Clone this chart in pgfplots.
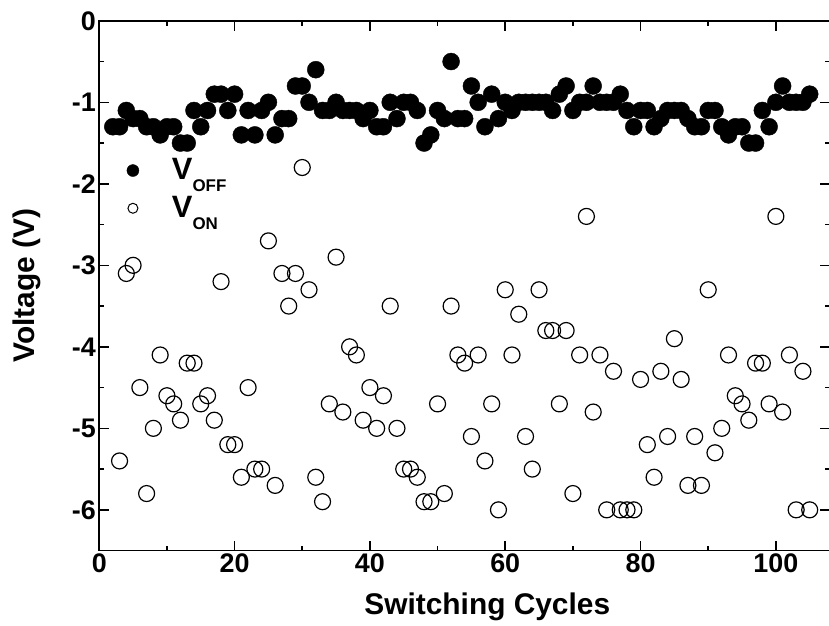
\documentclass[border=0pt]{standalone}
\usepackage{pgfplots}
\pgfplotsset{compat=1.18}
\usepackage{fontspec}
\setmainfont{Liberation Sans}
\begin{document}
\begin{tikzpicture}
  \begin{axis}
    [
      scale only axis,
      width=731bp, height=530bp,
      xmin=0, xmax=108, ymin=-6.5, ymax=0,
      xtick={0,20,...,100}, ytick={-6,-5,...,0},
      minor x tick num=1, minor y tick num=1,
      tick align=inside,
      major tick length=10bp, minor tick length=5bp,
      axis line style={line width=1.6bp},
      every tick/.style={line width=1.6bp, black},
      ticklabel style={font=\fontsize{27}{27}\selectfont\bfseries},
      /pgf/number format/assume math mode=true,
      xlabel={Switching Cycles}, ylabel={Voltage (V)},
      label style={font=\fontsize{30}{30}\selectfont\bfseries},
      xlabel style={at={(axis description cs:0.531,-0.1208)}, anchor=base},
      ylabel style={at={(axis description cs:-0.0882,0.5)}, anchor=base},
      legend cell align=left,
      legend image code/.code={\draw[#1] plot coordinates {(0bp,9bp)};
        \path[draw=none, fill=none] (0bp,9bp) -- (39bp,9bp);},
      legend style={draw=none, fill=none, inner sep=0pt, outer sep=0pt,
        at={(axis cs:4.09,-1.687)}, anchor=north west,
        row sep=15bp,
        nodes={inner sep=0pt, outer sep=0pt, anchor=base west}},
    ]
    % V_OFF
    \addplot[only marks, mark=*, mark size=8.5bp, black, forget plot] coordinates {
      (2,-1.3) (3,-1.3) (4,-1.1) (5,-1.2) (6,-1.2) (7,-1.3) (8,-1.3) (9,-1.4)
      (10,-1.3) (11,-1.3) (12,-1.5) (13,-1.5) (14,-1.1) (15,-1.3) (16,-1.1)
      (17,-0.9) (18,-0.9) (19,-1.1) (20,-0.9) (21,-1.4) (22,-1.1) (23,-1.4)
      (24,-1.1) (25,-1.0) (26,-1.4) (27,-1.2) (28,-1.2) (29,-0.8) (30,-0.8)
      (31,-1.0) (32,-0.6) (33,-1.1) (34,-1.1) (35,-1.0) (36,-1.1) (37,-1.1)
      (38,-1.1) (39,-1.2) (40,-1.1) (41,-1.3) (42,-1.3) (43,-1.0) (44,-1.2)
      (45,-1.0) (46,-1.0) (47,-1.1) (48,-1.5) (49,-1.4) (50,-1.1) (51,-1.2)
      (52,-0.5) (53,-1.2) (54,-1.2) (55,-0.8) (56,-1.0) (57,-1.3) (58,-0.9)
      (59,-1.2) (60,-1.0) (61,-1.1) (62,-1.0) (63,-1.0) (64,-1.0) (65,-1.0)
      (66,-1.0) (67,-1.1) (68,-0.9) (69,-0.8) (70,-1.1) (71,-1.0) (72,-1.0)
      (73,-0.8) (74,-1.0) (75,-1.0) (76,-1.0) (77,-0.9) (78,-1.1) (79,-1.3)
      (80,-1.1) (81,-1.1) (82,-1.3) (83,-1.2) (84,-1.1) (85,-1.1) (86,-1.1)
      (87,-1.2) (88,-1.3) (89,-1.3) (90,-1.1) (91,-1.1) (92,-1.3) (93,-1.4)
      (94,-1.3) (95,-1.3) (96,-1.5) (97,-1.5) (98,-1.1) (99,-1.3) (100,-1.0)
      (101,-0.8) (102,-1.0) (103,-1.0) (104,-1.0) (105,-0.9)
    };
    % V_ON
    \addplot[only marks, mark=o, mark size=8bp, black, mark options={line width=1.2bp}, forget plot] coordinates {
      (3,-5.4) (4,-3.1) (5,-3.0) (6,-4.5) (7,-5.8) (8,-5.0) (9,-4.1) (10,-4.6)
      (11,-4.7) (12,-4.9) (13,-4.2) (14,-4.2) (15,-4.7) (16,-4.6) (17,-4.9)
      (18,-3.2) (19,-5.2) (20,-5.2) (21,-5.6) (22,-4.5) (23,-5.5) (24,-5.5)
      (25,-2.7) (26,-5.7) (27,-3.1) (28,-3.5) (29,-3.1) (30,-1.8) (31,-3.3)
      (32,-5.6) (33,-5.9) (34,-4.7) (35,-2.9) (36,-4.8) (37,-4.0) (38,-4.1)
      (39,-4.9) (40,-4.5) (41,-5.0) (42,-4.6) (43,-3.5) (44,-5.0) (45,-5.5)
      (46,-5.5) (47,-5.6) (48,-5.9) (49,-5.9) (50,-4.7) (51,-5.8) (52,-3.5)
      (53,-4.1) (54,-4.2) (55,-5.1) (56,-4.1) (57,-5.4) (58,-4.7) (59,-6.0)
      (60,-3.3) (61,-4.1) (62,-3.6) (63,-5.1) (64,-5.5) (65,-3.3) (66,-3.8)
      (67,-3.8) (68,-4.7) (69,-3.8) (70,-5.8) (71,-4.1) (72,-2.4) (73,-4.8)
      (74,-4.1) (75,-6.0) (76,-4.3) (77,-6.0) (78,-6.0) (79,-6.0) (80,-4.4)
      (81,-5.2) (82,-5.6) (83,-4.3) (84,-5.1) (85,-3.9) (86,-4.4) (87,-5.7)
      (88,-5.1) (89,-5.7) (90,-3.3) (91,-5.3) (92,-5.0) (93,-4.1) (94,-4.6)
      (95,-4.7) (96,-4.9) (97,-4.2) (98,-4.2) (99,-4.7) (100,-2.4) (101,-4.8)
      (102,-4.1) (103,-6.0) (104,-4.3) (105,-6.0)
    };
    \addlegendimage{only marks, mark=*, mark size=6bp, black}
    \addlegendentry{\bfseries{\fontsize{31}{31}\selectfont V}\raisebox{-12bp}{\fontsize{17}{17}\selectfont OFF}}
    \addlegendimage{only marks, mark=o, mark size=5bp, black, mark options={line width=1bp}}
    \addlegendentry{\bfseries{\fontsize{31}{31}\selectfont V}\raisebox{-12bp}{\fontsize{17}{17}\selectfont ON}}
  \end{axis}
  \pgfresetboundingbox
  \path ([xshift=-99.3bp, yshift=-75bp]current axis.south west)
    rectangle ([xshift=-1bp, yshift=20.8bp]current axis.north east);
\end{tikzpicture}
\end{document}
